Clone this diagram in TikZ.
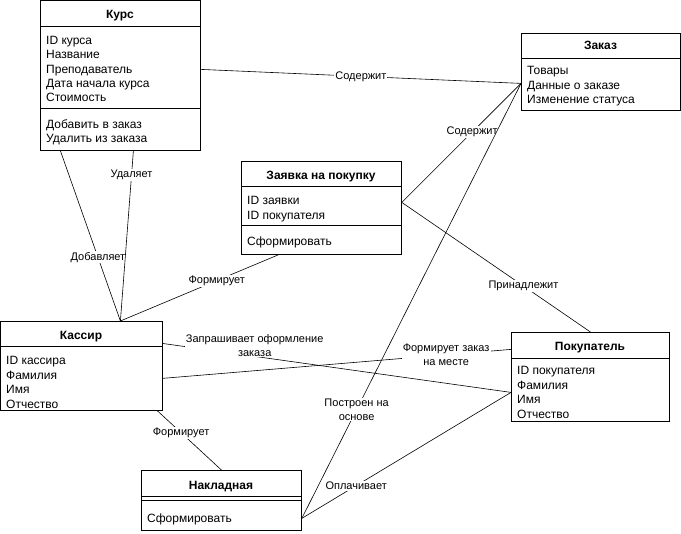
\documentclass[tikz,border=0pt]{standalone}
\usepackage{fontspec}
\setmainfont{Liberation Sans}
\usetikzlibrary{calc}

\begin{document}
\begin{tikzpicture}[x=1pt,y=-1pt,
		cls/.style={draw, line width=0.8pt, fill=white, anchor=north west, minimum width=160pt, inner sep=0pt},
		hd/.style={font=\fontsize{12}{14.4}\selectfont\bfseries, anchor=base, inner sep=0pt},
		att/.style={font=\fontsize{12}{14.4}\selectfont, anchor=base west, inner sep=0pt},
		lbl/.style={font=\fontsize{11}{14}\selectfont, fill=white, inner sep=1pt, align=center},
		rel/.style={line width=0.6pt}]
	
	\useasboundingbox (0,0) rectangle (681,534);
	
	\node[cls, minimum height=150pt] (kurs) at (40,0) {};
	\node[cls, minimum width=159pt, minimum height=77pt] (zakaz) at (521,33) {};
	\node[cls, minimum height=93pt] (zayavka) at (241,161) {};
	\node[cls, minimum width=161pt, minimum height=89pt] (kassir) at (0.5,321) {};
	\node[cls, minimum width=158pt, minimum height=89pt] (pokup) at (511,332) {};
	\node[cls, minimum height=60pt] (nakl) at (141,470) {};
	
	\foreach \b/\d in {kurs/26,kurs/108,zakaz/25,zayavka/25,zayavka/64,kassir/25,pokup/26,nakl/26,nakl/30}{
		\draw[line width=0.8pt] ($(\b.north west)+(0,\d)$) -- ($(\b.north east)+(0,\d)$);
	}
	
	\node[hd] (kurs-t) at (120,18.3) {Курс};
	\node[hd] (zakaz-t) at (600.5,49.3) {Заказ};
	\node[hd] (zayavka-t) at (321,179.3) {Заявка на покупку};
	\node[hd] (kassir-t) at (81,339.3) {Кассир};
	\node[hd] (pokup-t) at (590,350.3) {Покупатель};
	\node[hd] (nakl-t) at (221,489.3) {Накладная};
	
	\foreach \t [count=\i from 0] in {ID курса,Название,Преподаватель,Дата начала курса,Стоимость}{
		\node[att] (kurs-a\i) at (46,{44.3+14.4*\i}) {\t};
	}
	\foreach \t [count=\i from 0] in {Добавить в заказ,Удалить из заказа}{
		\node[att] (kurs-m\i) at (46,{128.3+14.4*\i}) {\t};
	}
	\foreach \t [count=\i from 0] in {Товары,Данные о заказе,Изменение статуса}{
		\node[att] (zakaz-a\i) at (527,{75+14.4*\i}) {\t};
	}
	\foreach \t [count=\i from 0] in {ID заявки,ID покупателя}{
		\node[att] (zayavka-a\i) at (247,{205+14.4*\i}) {\t};
	}
	\node[att] (zayavka-m0) at (247,246) {Сформировать};
	\foreach \t [count=\i from 0] in {ID кассира,Фамилия,Имя,Отчество}{
		\node[att] (kassir-a\i) at (6,{365+14.4*\i}) {\t};
	}
	\foreach \t [count=\i from 0] in {ID покупателя,Фамилия,Имя,Отчество}{
		\node[att] (pokup-a\i) at (517,{375+14.4*\i}) {\t};
	}
	\node[att] (nakl-m0) at (147,523) {Сформировать};
	
	\draw[rel] ([yshift=6pt]kurs.east) -- node[lbl] {Содержит} ([yshift=-11.5pt]zakaz.west);
	\draw[rel] ([yshift=5.5pt]zayavka.east) -- node[lbl, pos=0.59] {Содержит} ([yshift=-11.5pt]zakaz.west);
	\draw[rel] ([yshift=-18pt]nakl.east) -- node[lbl, pos=0.25] {Построен на\\основе} ([yshift=-11.5pt]zakaz.west);
	\draw[rel] ([yshift=5.5pt]zayavka.east) -- node[lbl, pos=0.645] {Принадлежит} (pokup.north);
	\draw[rel] ([xshift=-60pt]kurs.south) -- node[lbl, pos=0.626] {Добавляет} ([xshift=39pt]kassir.north);
	\draw[rel] ([xshift=13pt]kurs.south) -- node[lbl, pos=0.14] {Удаляет} ([xshift=39pt]kassir.north);
	\draw[rel] ([xshift=-43pt]zayavka.south) -- node[lbl, pos=0.39] {Формирует} ([xshift=39pt]kassir.north);
	\draw[rel] ([yshift=22.5pt]kassir.east) -- node[lbl, pos=0.265, yshift=11pt] {Запрашивает оформление\\заказа} ([yshift=-15.5pt]pokup.west);
	\draw[rel] ([yshift=-12.5pt]kassir.east) -- node[lbl, pos=0.814] {Формирует заказ\\на месте} ([yshift=27.5pt]pokup.west);
	\draw[rel] ([xshift=76pt]kassir.south) -- node[lbl, pos=0.37] {Формирует} (nakl.north);
	\draw[rel] ([yshift=-18pt]nakl.east) -- node[lbl, pos=0.26] {Оплачивает} ([yshift=-15.5pt]pokup.west);
	
\end{tikzpicture}
\end{document}
